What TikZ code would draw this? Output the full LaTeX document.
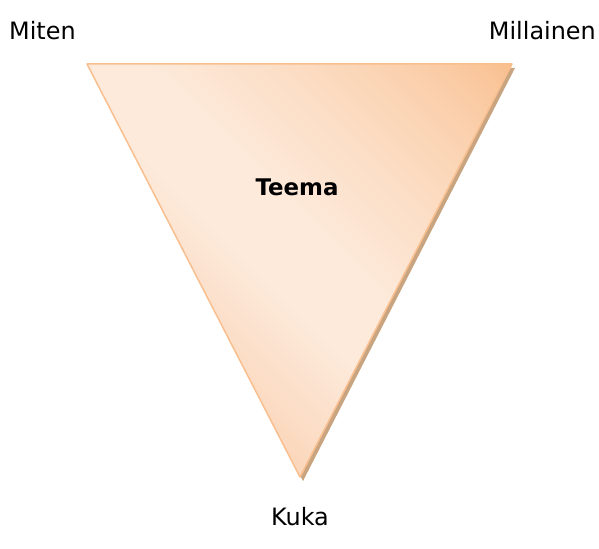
\documentclass[tikz,border=0pt]{standalone}
\usepackage{fontspec}
\setmainfont{DejaVu Sans}
\definecolor{edge}{HTML}{F9BF8F}
\definecolor{dark}{HTML}{F9BD8B}
\definecolor{light}{HTML}{FDEADB}
\definecolor{lowc}{HTML}{FBD6BA}
\definecolor{shadowc}{HTML}{C8A480}
\tikzset{lbl/.style={font=\fontsize{24}{28}\selectfont, inner sep=0pt}}
\begin{document}
\begin{tikzpicture}[x=1bp,y=-1bp]
\useasboundingbox (0,0) rectangle (599,549);
\coordinate (tl) at (87,64);
\coordinate (tr) at (512,64);
\coordinate (bt) at (300,477);
\fill[shadowc] ([shift={(3,4)}]tl) -- ([shift={(3,4)}]tr) -- ([shift={(3,4)}]bt) -- cycle;
\begin{scope}
\clip (tl) -- (tr) -- (bt) -- cycle;
\foreach \c in {-450,-446,...,182}{
  \ifdim\c pt<-80pt
    \pgfmathsetmacro\p{100*pow(max(0,(\c+448)/368),0.7)}
    \fill[light!\p!dark] (-100,{-100+\c}) -- (700,{700+\c}) -- (700,{705+\c}) -- (-100,{-95+\c}) -- cycle;
  \else
    \pgfmathsetmacro\p{\c<10 ? 100 : max(0,100-(\c-10)/167*100)}
    \fill[light!\p!lowc] (-100,{-100+\c}) -- (700,{700+\c}) -- (700,{705+\c}) -- (-100,{-95+\c}) -- cycle;
  \fi
}
\end{scope}
\draw[edge, line width=1.5bp, line join=round] (tl) -- (tr) -- (bt) -- cycle;
\node[lbl, font=\fontsize{23}{28}\selectfont\bfseries] (teema) at (297,187) {Teema};
\node[lbl, anchor=west] (miten) at (9,31) {Miten};
\node[lbl, anchor=east] (millainen) at (596,31) {Millainen};
\node[lbl] (kuka) at (300,517) {Kuka};
\end{tikzpicture}
\end{document}
